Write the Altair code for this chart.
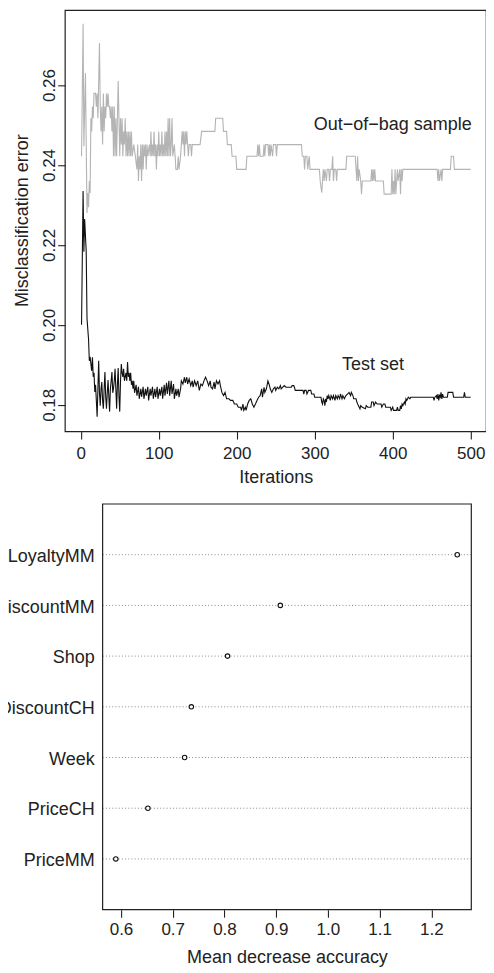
import altair as alt
import pandas as pd

# ---------------- data ----------------
oob_iter = [1, 3, 4, 6, 8, 9, 10, 11, 12, 13, 14, 15, 16, 17, 19, 20, 21, 22, 24, 25,
            26, 27, 28, 29, 30, 31, 32, 33, 34, 35, 36, 37, 38, 39, 40, 41, 42, 43, 44, 45,
            46, 47, 48, 49, 50, 51, 52, 53, 54, 55, 56, 57, 58, 59, 60, 61, 62, 63, 64, 65,
            66, 68, 70, 72, 73, 74, 75, 76, 77, 78, 79, 80, 81, 82, 83, 84, 85, 86, 88, 89,
            90, 91, 92, 93, 94, 95, 96, 97, 98, 99, 100, 101, 102, 103, 104, 105, 106, 107, 108, 109,
            110, 111, 112, 113, 114, 115, 116, 117, 118, 120, 121, 122, 124, 125, 126, 128, 130, 131, 132, 133,
            134, 135, 136, 137, 138, 139, 141, 142, 143, 153, 155, 172, 173, 182, 183, 187, 188, 193, 194, 199,
            200, 212, 213, 226, 227, 228, 229, 230, 234, 235, 236, 237, 240, 241, 242, 243, 244, 246, 247, 250,
            251, 252, 283, 284, 286, 287, 288, 290, 291, 293, 294, 306, 307, 309, 310, 311, 312, 313, 315, 316,
            318, 319, 320, 322, 323, 324, 325, 327, 328, 329, 340, 341, 352, 353, 354, 355, 356, 357, 359, 360,
            361, 372, 373, 374, 375, 376, 377, 378, 388, 389, 398, 399, 400, 401, 402, 403, 404, 406, 407, 409,
            410, 411, 412, 413, 457, 458, 459, 460, 462, 463, 464, 474, 475, 478, 479, 500]
oob_err = [.2422, .2753, .2447, .2630, .2280, .2330, .2294, .2360, .2330, .2517, .2484, .2546, .2517, .2579, .2579, .2546, .2579, .2517, .2705, .2546,
           .2484, .2546, .2451, .2579, .2484, .2546, .2517, .2579, .2546, .2579, .2546, .2546, .2517, .2546, .2484, .2546, .2422, .2546, .2422, .2517,
           .2422, .2517, .2610, .2517, .2422, .2517, .2451, .2517, .2422, .2484, .2451, .2517, .2422, .2484, .2422, .2484, .2422, .2484, .2422, .2484,
           .2422, .2451, .2422, .2389, .2451, .2360, .2422, .2389, .2451, .2360, .2451, .2389, .2451, .2422, .2451, .2389, .2451, .2422, .2451, .2422,
           .2484, .2422, .2451, .2422, .2484, .2422, .2451, .2389, .2451, .2422, .2484, .2422, .2451, .2422, .2484, .2422, .2451, .2422, .2484, .2422,
           .2484, .2422, .2517, .2422, .2517, .2422, .2451, .2517, .2422, .2451, .2422, .2389, .2389, .2422, .2389, .2422, .2484, .2451, .2484, .2422,
           .2484, .2451, .2484, .2451, .2422, .2451, .2451, .2422, .2451, .2451, .2484, .2484, .2517, .2517, .2484, .2484, .2451, .2451, .2422, .2422,
           .2389, .2389, .2422, .2422, .2451, .2422, .2451, .2422, .2422, .2451, .2422, .2451, .2451, .2422, .2451, .2422, .2451, .2422, .2451, .2451,
           .2422, .2451, .2451, .2422, .2422, .2389, .2422, .2422, .2389, .2422, .2389, .2389, .2360, .2331, .2360, .2389, .2360, .2389, .2360, .2389,
           .2389, .2360, .2389, .2389, .2422, .2360, .2389, .2389, .2360, .2389, .2389, .2422, .2422, .2389, .2360, .2422, .2360, .2389, .2360, .2327,
           .2360, .2360, .2389, .2360, .2389, .2360, .2389, .2360, .2360, .2327, .2327, .2389, .2327, .2360, .2327, .2389, .2327, .2389, .2360, .2389,
           .2327, .2389, .2360, .2389, .2389, .2360, .2389, .2360, .2389, .2360, .2389, .2389, .2422, .2422, .2389, .2389]

test_iter = [1, 3, 4, 5, 7, 8, 9, 10, 11, 12, 14, 15, 16, 17, 18, 19, 21, 22, 23, 24,
             25, 26, 27, 28, 29, 30, 31, 32, 33, 34, 35, 36, 37, 38, 39, 40, 41, 42, 43, 44,
             45, 46, 47, 48, 49, 50, 51, 52, 53, 54, 55, 56, 57, 58, 59, 60, 61, 62, 63, 64,
             65, 66, 67, 68, 69, 71, 72, 74, 75, 77, 78, 80, 81, 83, 84, 86, 87, 89, 90, 92,
             93, 95, 96, 98, 99, 101, 102, 104, 105, 107, 108, 110, 111, 113, 114, 116, 117, 119, 120, 122,
             123, 125, 126, 128, 129, 131, 133, 134, 136, 137, 139, 141, 143, 144, 146, 148, 150, 152, 154, 156,
             158, 160, 162, 164, 166, 167, 169, 171, 172, 174, 176, 178, 179, 181, 183, 185, 187, 190, 192, 195,
             197, 200, 202, 205, 206, 208, 209, 211, 212, 214, 216, 218, 220, 222, 224, 226, 228, 230, 232, 233,
             235, 236, 238, 240, 242, 243, 245, 247, 249, 250, 252, 254, 256, 257, 259, 261, 263, 270, 271, 273,
             274, 275, 285, 286, 287, 289, 290, 292, 295, 296, 299, 300, 308, 309, 310, 311, 312, 313, 314, 315,
             316, 317, 318, 320, 321, 323, 324, 326, 327, 329, 330, 332, 333, 335, 336, 338, 340, 342, 344, 346,
             347, 349, 350, 353, 354, 356, 358, 359, 361, 365, 366, 368, 372, 373, 375, 376, 378, 380, 385, 386,
             388, 390, 391, 397, 398, 400, 401, 405, 406, 407, 409, 410, 411, 412, 413, 415, 416, 417, 418, 420,
             422, 423, 452, 453, 454, 456, 457, 458, 459, 460, 461, 462, 463, 464, 465, 470, 471, 477, 478, 491,
             492, 493, 500]
test_err = [.2000, .2335, .2183, .2265, .2183, .2017, .1990, .1964, .1910, .1920, .1885, .1919, .1870, .1880, .1832, .1850, .1770, .1840, .1910, .1830,
            .1798, .1840, .1857, .1810, .1790, .1840, .1882, .1820, .1790, .1830, .1862, .1820, .1783, .1840, .1860, .1882, .1830, .1841, .1860, .1890,
            .1840, .1790, .1850, .1892, .1820, .1783, .1860, .1902, .1880, .1870, .1890, .1860, .1870, .1880, .1860, .1907, .1870, .1880, .1860, .1880,
            .1850, .1860, .1840, .1860, .1830, .1850, .1823, .1845, .1815, .1840, .1820, .1845, .1815, .1840, .1823, .1845, .1811, .1840, .1823, .1845,
            .1815, .1840, .1819, .1845, .1815, .1840, .1823, .1845, .1815, .1850, .1823, .1855, .1827, .1860, .1823, .1860, .1827, .1852, .1815, .1840,
            .1823, .1840, .1819, .1840, .1860, .1852, .1869, .1855, .1869, .1852, .1865, .1848, .1860, .1844, .1860, .1848, .1860, .1836, .1852, .1848,
            .1860, .1869, .1860, .1848, .1860, .1844, .1840, .1857, .1840, .1860, .1852, .1860, .1848, .1831, .1823, .1831, .1815, .1815, .1811, .1811,
            .1802, .1802, .1794, .1794, .1786, .1802, .1786, .1794, .1786, .1802, .1811, .1815, .1802, .1794, .1802, .1811, .1819, .1823, .1840, .1819,
            .1844, .1831, .1840, .1860, .1848, .1840, .1831, .1840, .1844, .1836, .1844, .1840, .1848, .1840, .1844, .1848, .1844, .1844, .1848, .1848,
            .1844, .1836, .1836, .1827, .1836, .1836, .1827, .1836, .1836, .1827, .1827, .1819, .1819, .1807, .1802, .1815, .1811, .1798, .1815, .1807,
            .1823, .1815, .1823, .1811, .1823, .1815, .1823, .1811, .1823, .1815, .1823, .1815, .1827, .1815, .1823, .1815, .1823, .1827, .1831, .1823,
            .1831, .1823, .1815, .1815, .1807, .1798, .1790, .1798, .1794, .1790, .1798, .1794, .1794, .1807, .1807, .1798, .1807, .1802, .1802, .1794,
            .1802, .1802, .1794, .1794, .1786, .1794, .1786, .1786, .1794, .1786, .1786, .1798, .1790, .1802, .1798, .1807, .1802, .1815, .1811, .1819,
            .1815, .1819, .1819, .1811, .1819, .1823, .1815, .1827, .1811, .1823, .1819, .1831, .1815, .1827, .1819, .1819, .1831, .1831, .1819, .1819,
            .1831, .1819, .1819]

annotations = ["Out\u2212of\u2212bag sample", "Test set"]

variables = ["LoyaltyMM", "DiscountMM", "Shop", "DiscountCH", "Week", "PriceCH", "PriceMM"]
importance = [1.250, 0.908, 0.806, 0.736, 0.723, 0.652, 0.590]

x_ticks_top = [0, 100, 200, 300, 400, 500]
y_ticks_top = [0.18, 0.20, 0.22, 0.24, 0.26]
x_ticks_bottom = [0.6, 0.7, 0.8, 0.9, 1.0, 1.1, 1.2]

# ---------------- styling ----------------
FONT = "Liberation Sans"
TXT = "#222222"
FRAME = "#222222"

oob_df = pd.DataFrame({"iter": oob_iter, "err": oob_err})
test_df = pd.DataFrame({"iter": test_iter, "err": test_err})
imp_df = pd.DataFrame({"var": variables, "imp": importance})
one = pd.DataFrame({"s": [0]})

X_DOM_TOP = [-20, 520]
Y_DOM_TOP = [0.17331, 0.27867]
X_DOM_BOT = [0.5645, 1.2772]

W_TOP, H_TOP = 421.5, 421.5
SHIFT = 37.5                 # bottom panel box starts this far right of the top one
W_BOT_BOX, H_BOT = 369, 406
W_BOT = SHIFT + W_BOT_BOX

xs_top = alt.Scale(domain=X_DOM_TOP, nice=False, zero=False)
ys_top = alt.Scale(domain=Y_DOM_TOP, nice=False, zero=False)

x_top = alt.X("iter:Q", scale=xs_top,
              axis=alt.Axis(values=x_ticks_top, format="d", title="Iterations",
                            domain=False, grid=False, tickSize=7.5, tickWidth=1.1,
                            labelPadding=19.4, labelBaseline="alphabetic", labelFontSize=17,
                            labelFlush=False, labelOverlap=False,
                            titleFontSize=18, titleBaseline="alphabetic", titleY=50.5))
y_top = alt.Y("err:Q", scale=ys_top,
              axis=alt.Axis(values=y_ticks_top, format=".2f", title="Misclassification error",
                            domain=False, grid=False, tickSize=7.5, tickWidth=1.1,
                            labelAngle=270, labelAlign="center", labelBaseline="alphabetic",
                            labelPadding=3.3, labelFontSize=17, labelFlush=False, labelOverlap=False,
                            titleFontSize=18, titleAngle=270, titleAlign="center",
                            titleBaseline="alphabetic", titleX=-37.4, titleY=210))

frame_top = alt.Chart(one).mark_rect(fillOpacity=0, stroke=FRAME, strokeWidth=1.2).encode(
    x=alt.datum(X_DOM_TOP[0]), x2=alt.datum(X_DOM_TOP[1]),
    y=alt.datum(Y_DOM_TOP[0]), y2=alt.datum(Y_DOM_TOP[1]))
gray_line = alt.Chart(oob_df).mark_line(color="#b4b4b4", strokeWidth=1.1).encode(x=x_top, y=y_top)
black_line = alt.Chart(test_df).mark_line(color="#111111", strokeWidth=1.1).encode(
    x=alt.X("iter:Q", scale=xs_top), y=alt.Y("err:Q", scale=ys_top))
ann_oob = alt.Chart(one).mark_text(font=FONT, fontSize=18, color=TXT, align="center",
                                   baseline="alphabetic", text=annotations[0]).encode(
    x=alt.datum(400), y=alt.datum(0.24884))
ann_test = alt.Chart(one).mark_text(font=FONT, fontSize=18, color=TXT, align="center",
                                    baseline="alphabetic", text=annotations[1]).encode(
    x=alt.datum(374.7), y=alt.datum(0.18875))

top = alt.layer(gray_line, black_line, ann_oob, ann_test, frame_top).properties(
    width=W_TOP, height=H_TOP)

# ---- bottom: variable importance dot chart ----
xs_bot = alt.Scale(domain=X_DOM_BOT, range=[SHIFT, W_BOT], nice=False, zero=False)
ys_bot = alt.Scale(type="point", padding=1)

x_bot = alt.X("imp:Q", scale=xs_bot,
              axis=alt.Axis(values=x_ticks_bottom, format=".1f", title="Mean decrease accuracy",
                            domain=False, grid=False, tickSize=7.5, tickWidth=1.1,
                            labelPadding=17, labelBaseline="alphabetic", labelFontSize=17,
                            labelFlush=False, labelOverlap=False,
                            titleFontSize=18, titleBaseline="alphabetic", titleAlign="center",
                            titleX=SHIFT + W_BOT_BOX / 2, titleY=52.5))
y_bot = alt.Y("var:N", sort=variables, scale=ys_bot,
              axis=alt.Axis(title=None, ticks=False, domain=False, grid=False, offset=-SHIFT,
                            labelPadding=8.4, labelBaseline="alphabetic", labelOffset=6.7,
                            labelFontSize=18, labelLimit=300))

dotted = alt.Chart(imp_df).mark_rule(color="#8a8a8a", strokeWidth=1, strokeDash=[1, 2.2]).encode(
    y=y_bot, x=alt.datum(X_DOM_BOT[0]), x2=alt.datum(X_DOM_BOT[1]))
frame_bot = alt.Chart(one).mark_rect(fillOpacity=0, stroke=FRAME, strokeWidth=1.2).encode(
    x=alt.datum(X_DOM_BOT[0]), x2=alt.datum(X_DOM_BOT[1]),
    y=alt.value(0), y2=alt.value(H_BOT))
dots = alt.Chart(imp_df).mark_circle(size=20, fill="white", stroke="#111111",
                                     strokeWidth=1.1, opacity=1).encode(x=x_bot, y=y_bot)

bottom = alt.layer(dotted, frame_bot, dots).properties(width=W_BOT, height=H_BOT)

chart = alt.vconcat(top, bottom, spacing=15).properties(
    padding={"left": -14.8, "top": 0, "right": -1.8, "bottom": 0}
).configure(font=FONT).configure_axis(
    labelFont=FONT, titleFont=FONT, labelColor=TXT, titleColor=TXT, tickColor=TXT,
    titleFontWeight="normal"
).configure_view(stroke="transparent")

chart.save("out.html", embed_options={"renderer": "svg", "actions": False})
